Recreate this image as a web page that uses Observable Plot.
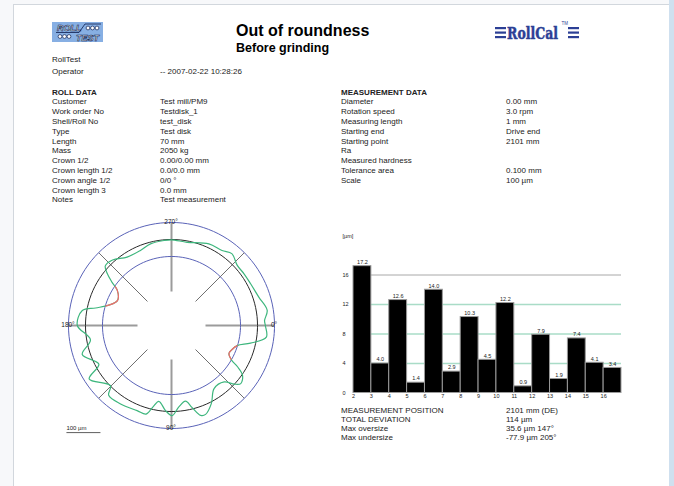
<!DOCTYPE html>
<html><head><meta charset="utf-8">
<script src="https://cdn.jsdelivr.net/npm/d3@7"></script>
<script src="https://cdn.jsdelivr.net/npm/@observablehq/plot@0.6"></script>
<style>
html,body{margin:0;padding:0;width:674px;height:486px;overflow:hidden;background:#f7f8fa;font-family:"Liberation Sans",Arial,sans-serif;}
#root{position:absolute;left:0;top:0;width:674px;height:486px;overflow:hidden;}
#page{position:absolute;left:13px;top:4px;width:655px;height:500px;background:#fff;border:1px solid #d2d7dd;}
#rstrip{position:absolute;left:669px;top:0;width:5px;height:486px;background:#cfe0ef;}
.t{position:absolute;font-size:8px;line-height:1;color:#222;white-space:nowrap;}
.plot{position:absolute;}
</style></head>
<body><div id="root"><div id="page"></div><div id="rstrip"></div></div>
<script>
// ---------- data ----------
const titleText = "Out of roundness";
const subtitleText = "Before grinding";
const infoLabels = ["RollTest", "Operator"];
const infoValues = ["", "-- 2007-02-22 10:28:26"];
const rollTitle = "ROLL DATA";
const rollLabels = ["Customer","Work order No","Shell/Roll No","Type","Length","Mass","Crown 1/2","Crown length 1/2","Crown angle 1/2","Crown length 3","Notes"];
const rollValues = ["Test mill/PM9","Testdisk_1","test_disk","Test disk","70 mm","2050 kg","0.00/0.00 mm","0.0/0.0 mm","0/0 °","0.0 mm","Test measurement"];
const measTitle = "MEASUREMENT DATA";
const measLabels = ["Diameter","Rotation speed","Measuring length","Starting end","Starting point","Ra","Measured hardness","Tolerance area","Scale"];
const measValues = ["0.00 mm","3.0 rpm","1 mm","Drive end","2101 mm","","","0.100 mm","100 µm"];
const resultLabels = ["MEASUREMENT POSITION","TOTAL DEVIATION","Max oversize","Max undersize"];
const resultValues = ["2101 mm (DE)","114 µm","35.6 µm 147°","-77.9 µm 205°"];

// harmonic analysis
const harmonics = [2,3,4,5,6,7,8,9,10,11,12,13,14,15,16];
const amplitudes = [17.2,4.0,12.6,1.4,14.0,2.9,10.3,4.5,12.2,0.9,7.9,1.9,7.4,4.1,3.4];
const yTicks = [0,4,8,12,16];
const barUnit = "[µm]";

// roundness profile: angle (deg, 0 = right, 90 = bottom) and deviation (µm)
const profileAngles = [0,7,12.6,17,22,26,30,32,35,40,43,47,56,63,69,72,76,79.5,85,89.6,94,99.5,103,106,112,123,132,135.5,147,152,162,170,180,189.5,193,198,205,213,216,219,222,228,237,247.5,255.6,265,270,280.6,294.6,304,310,317.6,324.5,332,342,351,357];
const profileDeviation = [23,28,-15,-51,-62,-65,-49,-24,2,13,0,-26,-29,5,27,25,-5,-27,-12,12,-2,-27,-6,18,17,22,23,-1,35.6,-11,23,-11,24,13,-24,-59,-77.9,-63,-37,-10,9,6,-13,-14,-5,-2,-1,-4,11,13,23,9,9,10,17,32,21];
const tolerance = 50;          // ± µm (tolerance area 0.100 mm)
const scaleBar = 100;          // µm
const scaleBarLabel = "100 µm";
const angleLabels = [{a:0,t:"0°"},{a:90,t:"90°"},{a:180,t:"180°"},{a:270,t:"270°"}];

// ---------- helpers ----------
const root = document.getElementById("root");
function addText(str, x, y, fs=8, extra={}) {
  const d = document.createElement("div");
  d.className = "t"; d.textContent = str;
  d.style.left = x + "px"; d.style.top = (y - fs*0.5) + "px"; d.style.fontSize = fs + "px";
  Object.assign(d.style, extra);
  root.appendChild(d);
  return d;
}

// ---------- header ----------
addText(titleText, 236, 31, 16, {fontWeight:"bold", color:"#000"});
addText(subtitleText, 236, 48, 12.5, {fontWeight:"bold", color:"#000"});

// RollTest logo
const logo1 = document.createElement("div");
logo1.style.cssText = "position:absolute;left:52px;top:22px;width:51px;height:20px;";
logo1.innerHTML = `<svg width="51" height="20" viewBox="0 0 51 20">
<rect width="51" height="20" fill="#5a8fd6"/>
${d3.range(0.5,20,2).map(y=>`<rect x="0" y="${y}" width="51" height="1" fill="#b3cff0"/>`).join("")}
<text x="5" y="9" font-family="Liberation Sans" font-size="9" font-weight="bold" font-style="italic" fill="#fff" stroke="#0d1d4f" stroke-width="0.6">ROLL</text>
<text x="24" y="18.5" font-family="Liberation Sans" font-size="9" font-weight="bold" font-style="italic" fill="#fff" stroke="#0d1d4f" stroke-width="0.6">TEST</text>
<line x1="4" y1="10.5" x2="27" y2="10.5" stroke="#0d1d4f" stroke-width="0.8"/>
<line x1="27" y1="10.5" x2="33" y2="2" stroke="#0d1d4f" stroke-width="0.8"/>
<line x1="33" y1="2" x2="49" y2="2" stroke="#0d1d4f" stroke-width="0.8"/>
${[36,40.5,45].map(x=>`<circle cx="${x}" cy="6" r="1.9" fill="#fff" stroke="#0d1d4f" stroke-width="0.7"/>`).join("")}
${[8,12.5,17].map(x=>`<circle cx="${x}" cy="14.5" r="1.9" fill="#fff" stroke="#0d1d4f" stroke-width="0.7"/>`).join("")}
</svg>`;
root.appendChild(logo1);

// RollCal logo
const logo2 = document.createElement("div");
logo2.style.cssText = "position:absolute;left:494px;top:19px;width:86px;height:24px;";
logo2.innerHTML = `<svg width="86" height="24" viewBox="0 0 86 24">
${[8,12.5,17].map(y=>`<rect x="1" y="${y}" width="11" height="2.2" fill="#2c3f95"/><rect x="74" y="${y}" width="11" height="2.2" fill="#2c3f95"/>`).join("")}
<text x="13" y="20" font-family="DejaVu Serif" font-size="16" font-weight="bold" fill="#2c3f95" stroke="#2c3f95" stroke-width="0.5" textLength="51" lengthAdjust="spacingAndGlyphs">RollCal</text>
<text x="67.5" y="5.5" font-family="Liberation Sans" font-size="4.5" fill="#2c3f95">TM</text>
</svg>`;
root.appendChild(logo2);

// ---------- info text ----------
infoLabels.forEach((l,i)=>{ addText(l, 52, 60 + i*11.5); addText(infoValues[i], 160, 60 + i*11.5); });
const rowStep = 9.8, blockTop = 92.5;
addText(rollTitle, 52, blockTop, 8, {fontWeight:"bold"});
rollLabels.forEach((l,i)=>{ addText(l, 52, blockTop + (i+1)*rowStep); addText(rollValues[i], 160, blockTop + (i+1)*rowStep); });
addText(measTitle, 341, blockTop, 8, {fontWeight:"bold"});
measLabels.forEach((l,i)=>{ addText(l, 341, blockTop + (i+1)*rowStep); addText(measValues[i], 506, blockTop + (i+1)*rowStep); });
resultLabels.forEach((l,i)=>{ addText(l, 341, 410.5 + i*9.3); addText(resultValues[i], 506, 410.5 + i*9.3); });

// ---------- polar profile chart ----------
const pxPerUm = 0.34, baseR = 253;
const PW = 232, PH = 228, CX = 116, CY = 113;
const rad = a => a*Math.PI/180;
const pol = (a, r) => ({x: r*Math.cos(rad(a)), y: -r*Math.sin(rad(a))});
const rOut = baseR + tolerance, rIn = baseR - tolerance, rAxis = 100;
const circleAngles = d3.range(0, 360, 3);
const circles = [
  {r: rOut, c: "#5a63b8", w: 1},
  {r: rIn, c: "#5a63b8", w: 1},
  {r: baseR, c: "#2a2a2a", w: 1}
];
const profile = profileAngles.map((a,i)=>pol(a, baseR + profileDeviation[i]));
const axisMain = [0,90,180,270].map(a=>({a, p1: pol(a, rAxis), p2: pol(a, rOut)}));
const axisDiag = [45,135,225,315].map(a=>({a, p1: pol(a, rAxis), p2: pol(a, rOut)}));

const RED = "#f26b6b";
const polar = Plot.plot({
  width: PW, height: PH,
  margin: 0,
  x: {domain: [-CX/pxPerUm, (PW-CX)/pxPerUm], range: [0, PW], axis: null},
  y: {domain: [-(PH-CY)/pxPerUm, CY/pxPerUm], range: [PH, 0], axis: null},
  style: {background: "transparent", fontFamily: "Liberation Sans", overflow: "visible"},
  marks: [
    Plot.link(axisMain, {x1: d=>d.p1.x, y1: d=>d.p1.y, x2: d=>d.p2.x, y2: d=>d.p2.y, stroke: "#9b9b9b", strokeWidth: 2}),
    Plot.link(axisDiag, {x1: d=>d.p1.x, y1: d=>d.p1.y, x2: d=>d.p2.x, y2: d=>d.p2.y, stroke: "#4a4a4a", strokeWidth: 0.8}),
    ...circles.map(c => Plot.line(circleAngles.map(a=>pol(a, c.r)), {x:"x", y:"y", stroke: c.c, strokeWidth: c.w, curve: "catmull-rom-closed"})),
    Plot.line(profile, {x:"x", y:"y", stroke: "#3db67d", strokeWidth: 1.2, curve: "catmull-rom-closed"}),
    Plot.line(profile, {x:"x", y:"y", stroke: RED, strokeWidth: 1.2, curve: "catmull-rom-closed"}),
    Plot.text(angleLabels, {
      x: d=>pol(d.a, rOut).x, y: d=>pol(d.a, rOut).y, text: "t", fontSize: 6.5, fill: "#222",
      textAnchor: d=> d.a===0 ? "start" : d.a===180 ? "end" : "middle",
      dx: d=> d.a===0 ? 3 : d.a===180 ? -3 : 0,
      dy: d=> d.a===270 ? -4 : d.a===90 ? 4 : 0
    }),
    Plot.link([scaleBar], {x1: -rOut - 6, x2: d => -rOut - 6 + d, y1: -rOut - 12, y2: -rOut - 12, stroke: "#333", strokeWidth: 0.8}),
    Plot.text([scaleBarLabel], {x: -rOut - 6, y: -rOut - 12, text: d=>d, textAnchor: "start", dy: -5, fontSize: 6, fill: "#222"})
  ]
});
polar.classList.add("plot");
polar.style.left = (171 - CX) + "px";
polar.style.top = (325 - CY) + "px";
root.appendChild(polar);
// clip the red copy of the profile to the out-of-tolerance region (outside the tolerance band)
(function(){
  const svg = d3.select(polar);
  const sx = polar.scale("x"), sy = polar.scale("y");
  const cx = sx.apply(0), cy = sy.apply(0);
  const ro = sx.apply(rOut) - cx, ri = sx.apply(rIn) - cx;
  const circ = (r) => `M${cx+r},${cy}A${r},${r} 0 1,1 ${cx-r},${cy}A${r},${r} 0 1,1 ${cx+r},${cy}Z`;
  const defs = svg.insert("defs", ":first-child");
  defs.append("clipPath").attr("id", "tolclip").append("path")
    .attr("d", `M-50,-50H${PW+50}V${PH+50}H-50Z` + circ(ro) + circ(ri))
    .attr("clip-rule", "evenodd");
  svg.selectAll(`g[stroke="${RED}"]`).attr("clip-path", "url(#tolclip)");
})();

// ---------- bar chart ----------
const bars = harmonics.map((h,i)=>({h, v: amplitudes[i]}));
const BW = 300, BH = 180;
const bar = Plot.plot({
  width: BW, height: BH,
  marginLeft: 23, marginRight: 9, marginTop: 20, marginBottom: 12.5,
  x: {domain: [2, 17], axis: null},
  y: {domain: [0, 20], axis: null},
  style: {background: "transparent", fontFamily: "Liberation Sans", overflow: "visible"},
  marks: [
    Plot.ruleY(yTicks.filter(t=>t>0 && t<16), {x1: 2, x2: 17, stroke: "#a9dcc7", strokeWidth: 1.6}),
    Plot.ruleY(yTicks.filter(t=>t===16), {x1: 2, x2: 17, stroke: "#a8a8a8", strokeWidth: 1}),
    Plot.rectY(bars, {x1: "h", x2: d=>d.h+1, y: "v", fill: "#000", stroke: "#9a9a9a", strokeWidth: 1}),
    Plot.text(bars, {x: d=>d.h+0.5, y: "v", text: d=>d.v.toFixed(1), dy: -4, fontSize: 5.5, fill: "#222"}),
    Plot.text(yTicks, {y: d=>d, text: d=>String(d), frameAnchor: "left", textAnchor: "start", dx: -11, fontSize: 5.5, fill: "#222"}),
    Plot.text(harmonics, {x: d=>d, text: d=>String(d), frameAnchor: "bottom", dy: 5, fontSize: 5.5, fill: "#222"}),
    Plot.text([barUnit], {text: d=>d, frameAnchor: "top-left", textAnchor: "start", dx: -11, dy: -11, fontSize: 5.5, fill: "#222"})
  ]
});
bar.classList.add("plot");
bar.style.left = "330px";
bar.style.top = "225px";
root.appendChild(bar);
</script>
</body></html>
